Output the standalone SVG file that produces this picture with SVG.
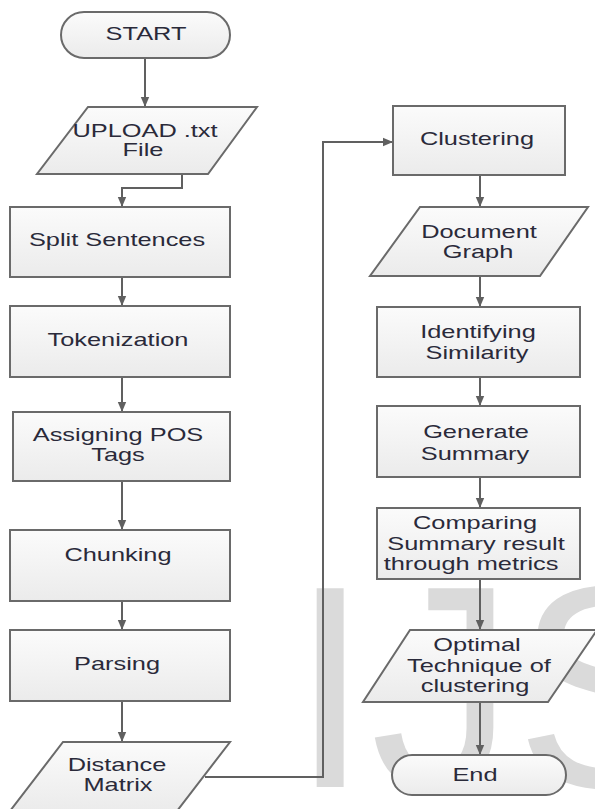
<svg xmlns="http://www.w3.org/2000/svg" width="595" height="809" viewBox="0 0 595 809">
<defs>
<linearGradient id="g" x1="0" y1="0" x2="0" y2="1">
<stop offset="0" stop-color="#fbfbfb"/>
<stop offset="1" stop-color="#ebebeb"/>
</linearGradient>
<marker id="ah" markerUnits="userSpaceOnUse" markerWidth="10" markerHeight="10" viewBox="0 0 10 10" refX="10" refY="5" orient="auto">
<path d="M0,0.8 L10,5 L0,9.2 z" fill="#606060"/>
</marker>
</defs>
<style>
.shape{fill:url(#g);stroke:#6a6a6a;stroke-width:2}
.t{font-family:"Liberation Sans",Arial,sans-serif;font-size:17.5px;fill:#2a2a3a;text-anchor:middle}
.c{fill:none;stroke:#606060;stroke-width:2;marker-end:url(#ah)}
.wm{font-family:"Liberation Sans",Arial,sans-serif;font-size:289px;fill:#dadada}
</style>
<rect width="595" height="809" fill="#ffffff"/>
<text class="wm" x="290" y="787">IJS</text>

<g id="connectors">
<path class="c" d="M145,58 V107"/>
<path class="c" d="M182,174 V188 H122 V207"/>
<path class="c" d="M122,277 V306"/>
<path class="c" d="M122,377 V412"/>
<path class="c" d="M122,481 V530"/>
<path class="c" d="M122,601 V630"/>
<path class="c" d="M122,701 V742"/>
<path class="c" d="M205,777 H323 V142 H393"/>
<path class="c" d="M480,175 V207"/>
<path class="c" d="M480,276 V307"/>
<path class="c" d="M480,377 V406"/>
<path class="c" d="M480,477 V508"/>
<path class="c" d="M480,579 V630"/>
<path class="c" d="M480,702 V755"/>
</g>

<g id="start">
<rect class="shape" x="61" y="12" width="169" height="46" rx="23"/>
<text class="t" transform="matrix(1.45,0,0,1,146,40)">START</text>
</g>
<g id="upload">
<polygon class="shape" points="88,107 257,107 208,174 37,174"/>
<text class="t" transform="matrix(1.45,0,0,1,145,137)">UPLOAD .txt</text>
<text class="t" transform="matrix(1.45,0,0,1,143,156)">File</text>
</g>
<g id="split">
<rect class="shape" x="10" y="207" width="220" height="70"/>
<text class="t" transform="matrix(1.45,0,0,1,117,246)">Split Sentences</text>
</g>
<g id="token">
<rect class="shape" x="10" y="306" width="220" height="71"/>
<text class="t" transform="matrix(1.45,0,0,1,118,346)">Tokenization</text>
</g>
<g id="pos">
<rect class="shape" x="13" y="412" width="217" height="69"/>
<text class="t" transform="matrix(1.45,0,0,1,118,441)">Assigning POS</text>
<text class="t" transform="matrix(1.45,0,0,1,118,461)">Tags</text>
</g>
<g id="chunk">
<rect class="shape" x="10" y="530" width="220" height="71"/>
<text class="t" transform="matrix(1.45,0,0,1,118,561)">Chunking</text>
</g>
<g id="parse">
<rect class="shape" x="10" y="630" width="220" height="71"/>
<text class="t" transform="matrix(1.45,0,0,1,117,670)">Parsing</text>
</g>
<g id="distance">
<polygon class="shape" points="63,742 230,742 177,811 10,811"/>
<text class="t" transform="matrix(1.45,0,0,1,117,771)">Distance</text>
<text class="t" transform="matrix(1.45,0,0,1,118,791)">Matrix</text>
</g>

<g id="cluster">
<rect class="shape" x="393" y="106" width="172" height="69"/>
<text class="t" transform="matrix(1.45,0,0,1,477,145)">Clustering</text>
</g>
<g id="docgraph">
<polygon class="shape" points="420,207 588,207 540,276 370,276"/>
<text class="t" transform="matrix(1.45,0,0,1,479,238)">Document</text>
<text class="t" transform="matrix(1.45,0,0,1,478,258)">Graph</text>
</g>
<g id="similarity">
<rect class="shape" x="377" y="307" width="203" height="70"/>
<text class="t" transform="matrix(1.45,0,0,1,478,338)">Identifying</text>
<text class="t" transform="matrix(1.45,0,0,1,477,359)">Similarity</text>
</g>
<g id="generate">
<rect class="shape" x="377" y="406" width="203" height="71"/>
<text class="t" transform="matrix(1.45,0,0,1,476,438)">Generate</text>
<text class="t" transform="matrix(1.45,0,0,1,475,460)">Summary</text>
</g>
<g id="compare">
<rect class="shape" x="377" y="508" width="203" height="71"/>
<text class="t" transform="matrix(1.45,0,0,1,475,529)">Comparing</text>
<text class="t" transform="matrix(1.45,0,0,1,476,550)">Summary result</text>
<text class="t" transform="matrix(1.45,0,0,1,471,570)">through metrics</text>
</g>
<g id="optimal">
<polygon class="shape" points="410,630 597,630 548,702 363,702"/>
<text class="t" transform="matrix(1.45,0,0,1,477,651)">Optimal</text>
<text class="t" transform="matrix(1.45,0,0,1,479,672)">Technique of</text>
<text class="t" transform="matrix(1.45,0,0,1,475,692)">clustering</text>
</g>
<g id="end">
<rect class="shape" x="392" y="755" width="174" height="40" rx="20"/>
<text class="t" transform="matrix(1.45,0,0,1,475,781)">End</text>
</g>
</svg>
